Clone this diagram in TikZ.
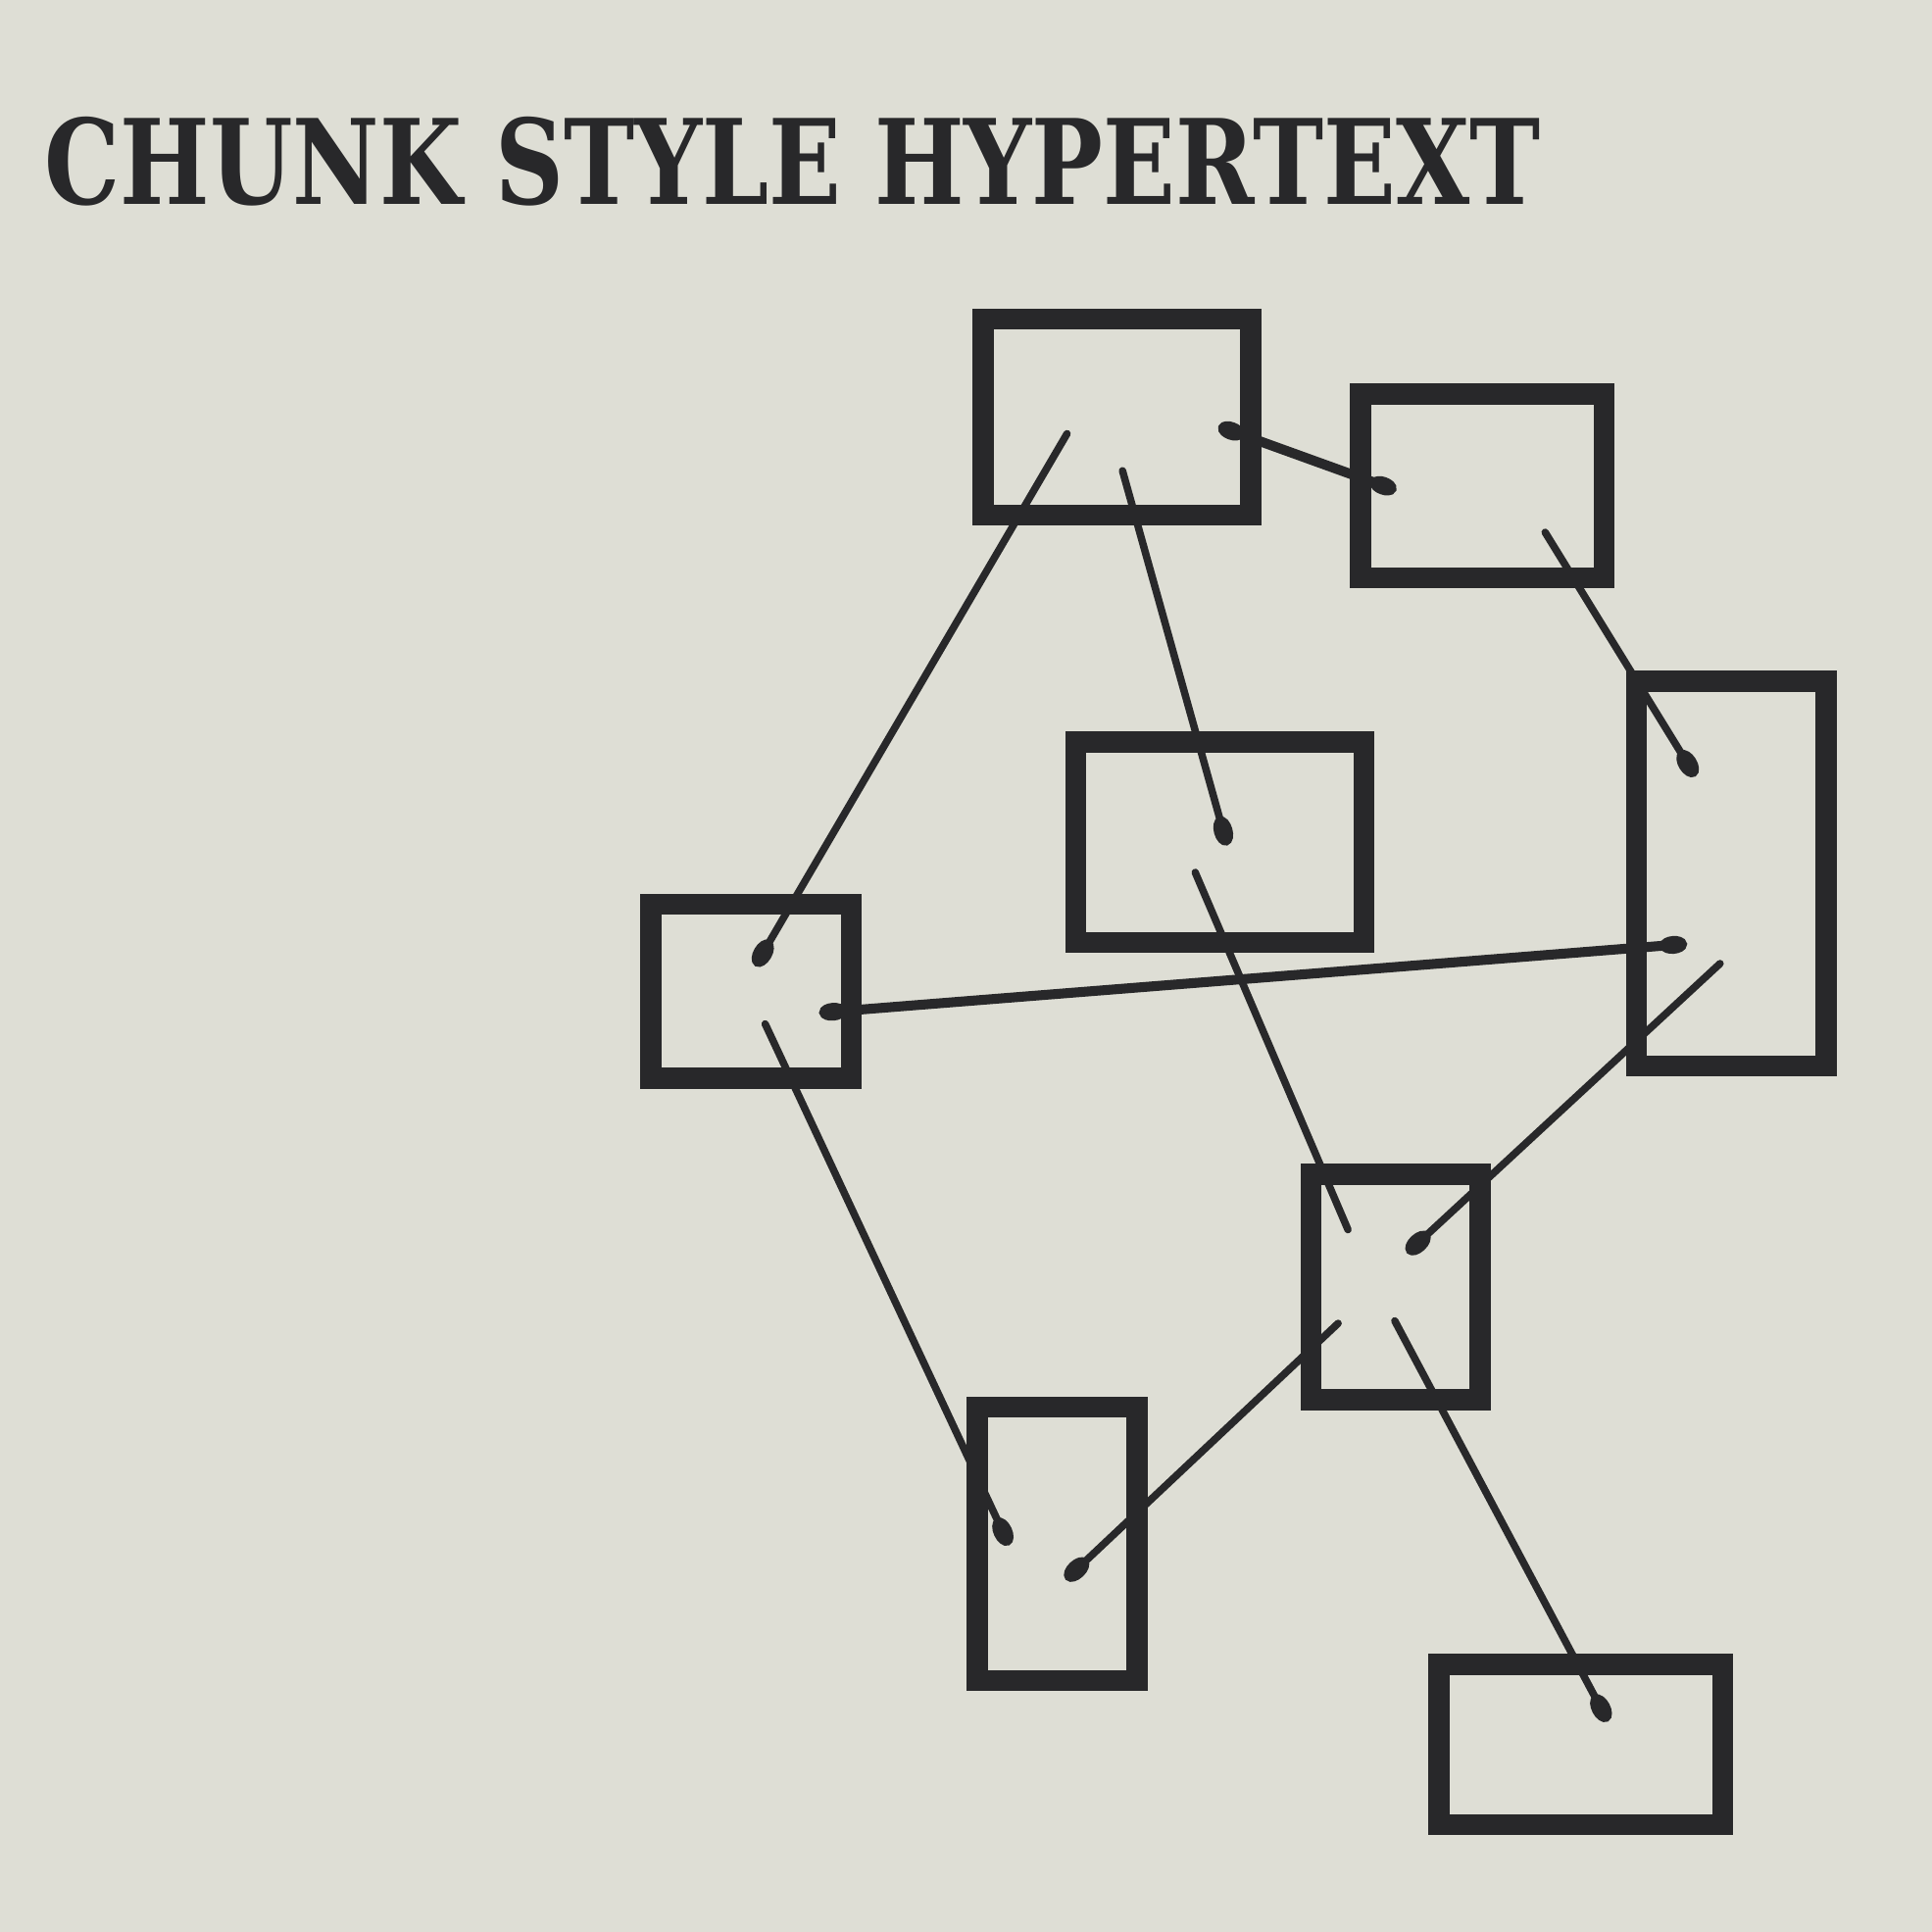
\documentclass[tikz,border=0pt]{standalone}
\usepackage{graphicx}
\usepackage{fontspec}
\newfontfamily\titlefont{DejaVu Serif}
\usetikzlibrary{arrows.meta}
\definecolor{paper}{RGB}{222,222,213}
\definecolor{ink}{RGB}{40,40,42}
\tikzset{
  box/.style={draw=ink, line width=4.3mm, inner sep=0pt, fill=none},
  link/.style={draw=ink, line width=1.5mm, line cap=round},
  heavylink/.style={draw=ink, line width=2mm, line cap=round},
  bulb/.style={-{Ellipse[length=6mm, width=3.8mm]}},
  twobulb/.style={{Ellipse[length=5.5mm, width=3.6mm]}-{Ellipse[length=5.5mm, width=3.6mm]}}
}
\begin{document}
\begin{tikzpicture}[x=0.25mm, y=-0.25mm]
\fill[paper] (0,0) rectangle (1568,1568);
\useasboundingbox (0,0) rectangle (1568,1568);

% title
\node[anchor=base west, inner sep=0pt, text=ink] (title) at (36,166)
  {\resizebox{303.5mm}{17.75mm}{\titlefont\bfseries CHUNK STYLE HYPERTEXT}};

% boxes
\node[box, minimum width=54.25mm, minimum height=39.75mm] (A) at (906.5,338.5) {};
\node[box, minimum width=49.5mm, minimum height=37.25mm] (B) at (1203,394.5) {};
\node[box, minimum width=38.5mm, minimum height=78mm] (C) at (1405,709) {};
\node[box, minimum width=58.5mm, minimum height=40.75mm] (D) at (990,683.5) {};
\node[box, minimum width=40.75mm, minimum height=35.25mm] (E) at (609.5,804.5) {};
\node[box, minimum width=34.25mm, minimum height=45.75mm] (F) at (1132.5,1044.5) {};
\node[box, minimum width=32.5mm, minimum height=55.5mm] (G) at (858,1253) {};
\node[box, minimum width=57.5mm, minimum height=32.5mm] (H) at (1283,1416) {};

% link anchor points inside boxes
\coordinate (a1) at (866,352);
\coordinate (a2) at (911,382);
\coordinate (a3) at (989,346);
\coordinate (b1) at (1133,398);
\coordinate (b2) at (1254,432);
\coordinate (c1) at (1376,630);
\coordinate (c2) at (1369,766);
\coordinate (c3) at (1396,782);
\coordinate (d1) at (996,686);
\coordinate (d2) at (970,708);
\coordinate (e1) at (613,784);
\coordinate (e2) at (665,822);
\coordinate (e3) at (621,831);
\coordinate (f1) at (1094,998);
\coordinate (f2) at (1142,1017);
\coordinate (f3) at (1086,1074);
\coordinate (f4) at (1132,1072);
\coordinate (g1) at (819,1254);
\coordinate (g2) at (865,1282);
\coordinate (h1) at (1305,1397);

% connectors
\draw[link, bulb] (a1) -- (e1);
\draw[link, bulb] (a2) -- (d1);
\draw[heavylink, twobulb] (a3) -- (b1);
\draw[link, bulb] (b2) -- (c1);
\draw[heavylink, twobulb] (e2) -- (c2);
\draw[link, bulb] (e3) -- (g1);
\draw[link] (d2) -- (f1);
\draw[link, bulb] (c3) -- (f2);
\draw[link, bulb] (f3) -- (g2);
\draw[link, bulb] (f4) -- (h1);
\end{tikzpicture}
\end{document}
